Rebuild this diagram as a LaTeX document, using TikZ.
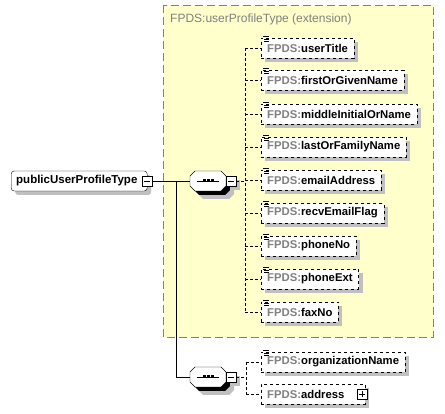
\documentclass[tikz,border=0pt]{standalone}
\usepackage{fontspec}
\setmainfont{Liberation Sans}
\usetikzlibrary{shadows}
\definecolor{ylw}{HTML}{FFFFCC}
\definecolor{fgray}{HTML}{808080}
\definecolor{shd}{HTML}{C0C0C0}
\newcommand{\el}[1]{\textcolor{fgray}{FPDS:}#1}
\tikzset{
  shd/.style={drop shadow={shadow xshift=4pt,shadow yshift=-4pt,fill=shd,opacity=1}},
  elem/.style={draw,dashed,fill=white,shd,anchor=west,minimum height=20pt,inner xsep=6pt,inner ysep=0pt,
    font=\fontsize{11.3}{13}\selectfont\bfseries},
  seqbox/.style={minimum width=36pt,minimum height=20pt,inner sep=0pt},
  pmbox/.style={draw,fill=white,minimum size=10pt,inner sep=0pt},
  dconn/.style={dashed,dash pattern=on 3pt off 2pt}
}
\begin{document}
\begin{tikzpicture}[x=1pt,y=-1pt]
\useasboundingbox (0,0) rectangle (445,414);
% extension box
\draw[fgray,fill=ylw,dash pattern=on 8pt off 4pt] (163,5) rectangle (433,337);
\node[anchor=west,text=fgray,font=\fontsize{12}{14}\selectfont,inner sep=0pt] (title) at (170,19) {FPDS:userProfileType (extension)};
% main
\node[draw,rounded corners=3pt,fill=white,shd,anchor=west,minimum width=136pt,minimum height=20pt,
  font=\fontsize{11.5}{13}\selectfont\bfseries,inner xsep=5pt,text width=126pt,align=left] (main) at (11,181) {publicUserProfileType};
\node[pmbox] (mainm) at (147,181) {};
\draw (mainm.center)++(-3,0) -- ++(6,0);
% sequences
\foreach \s/\x/\y in {seq1/208/181,seq2/208/377}{
  \fill[shd] (\x-14,\y-6) -- (\x+17,\y-6) -- (\x+22,\y-1) -- (\x+22,\y+9) -- (\x+17,\y+14) -- (\x-9,\y+14) -- (\x-14,\y+9) -- cycle;
  \filldraw[fill=white,draw=black] (\x-13,\y-10) -- (\x+13,\y-10) -- (\x+18,\y-5) -- (\x+18,\y+5) -- (\x+13,\y+10) -- (\x-13,\y+10) -- (\x-18,\y+5) -- (\x-18,\y-5) -- cycle;
  \node[seqbox] (\s) at (\x,\y) {};
  \draw (\s.center)++(-11,0) -- ++(22,0);
  \foreach \d in {-4,0,4} \fill (\s.center)++(\d-1.5,-1.5) rectangle ++(3,3);
}
\node[pmbox,shd] (seq1m) at (231,181) {};
\draw (seq1m.center)++(-3,0) -- ++(6,0);
\node[pmbox,shd] (seq2m) at (231,377) {};
\draw (seq2m.center)++(-3,0) -- ++(6,0);
% junctions
\coordinate (j0) at (176,181);
\coordinate (j1) at (176,377);
\draw (mainm.east) -- (seq1.west);
\draw (j0) -- (j1) -- (seq2.west);
% elements
\node[elem] (e1) at (261,48) {\el{userTitle}};
\node[elem] (e2) at (261,80) {\el{firstOrGivenName}};
\node[elem] (e3) at (261,114) {\el{middleInitialOrName}};
\node[elem] (e4) at (261,147) {\el{lastOrFamilyName}};
\node[elem] (e5) at (261,180) {\el{emailAddress}};
\node[elem] (e6) at (261,213) {\el{recvEmailFlag}};
\node[elem] (e7) at (261,246) {\el{phoneNo}};
\node[elem] (e8) at (261,279) {\el{phoneExt}};
\node[elem] (e9) at (261,312) {\el{faxNo}};
\node[elem] (f1) at (261,362) {\el{organizationName}};
\node[elem,text width=92pt,align=left] (f2) at (261,394) {\el{address}};
\node[pmbox] (f2p) at (362,394) {};
\draw (f2p.center)++(-3,0) -- ++(6,0) (f2p.center)++(0,-3) -- ++(0,6);
% icons
\foreach \e in {e1,e2,e3,e4,e5,e6,e7,e8,e9,f1}{
  \draw[line width=0.8pt] (\e.north west)++(2,-1) -- ++(6,0) ++(-5,2.5) -- ++(5,0) ++(-5,2.5) -- ++(5,0);
}
% dashed connectors
\coordinate (k0) at (245,181);
\coordinate (kt) at (245,48);
\coordinate (kb) at (245,312);
\draw[dconn] (seq1m.east) -- (k0);
\draw[dconn] (kt) -- (kb);
\foreach \e in {e1,e2,e3,e4,e5,e6,e7,e8,e9}{
  \draw[dconn] (\e.west -| kt) -- (\e.west);
}
\coordinate (m0) at (246,377);
\coordinate (mt) at (246,362);
\coordinate (mb) at (246,394);
\draw[dconn] (seq2m.east) -- (m0);
\draw[dconn] (mt) -- (mb);
\foreach \e in {f1,f2}{
  \draw[dconn] (\e.west -| mt) -- (\e.west);
}
\end{tikzpicture}
\end{document}
